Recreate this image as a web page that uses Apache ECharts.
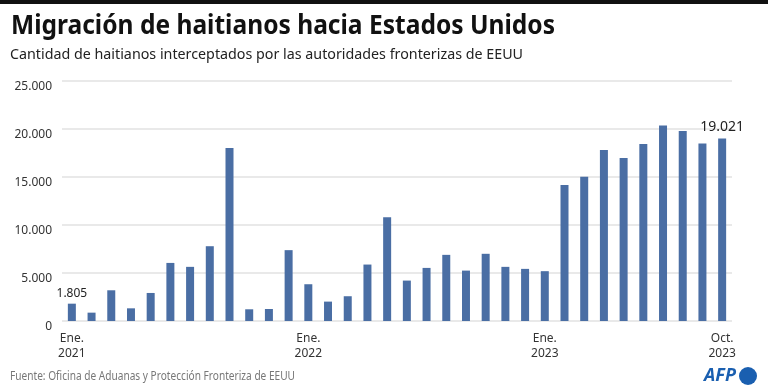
<!DOCTYPE html>
<html><head><meta charset="utf-8">
<script src="https://cdn.jsdelivr.net/npm/echarts@6/dist/echarts.min.js"></script>
<style>html,body{margin:0;padding:0;background:#fff}#c{width:768px;height:389px}</style>
</head><body><div id="c"></div><script>
// Monthly categories Jan 2021 .. Oct 2023
const categories = ['2021-01','2021-02','2021-03','2021-04','2021-05','2021-06','2021-07','2021-08','2021-09','2021-10','2021-11','2021-12',
  '2022-01','2022-02','2022-03','2022-04','2022-05','2022-06','2022-07','2022-08','2022-09','2022-10','2022-11','2022-12',
  '2023-01','2023-02','2023-03','2023-04','2023-05','2023-06','2023-07','2023-08','2023-09','2023-10'];
const values = [1805, 870, 3200, 1320, 2920, 6050, 5640, 7790, 18030, 1220, 1250, 7380,
  3830, 2020, 2580, 5880, 10820, 4210, 5530, 6890, 5250, 7000, 5640, 5430,
  5190, 14160, 15030, 17820, 16980, 18440, 20360, 19800, 18480, 19021];
const tickCategories = ['2021-01','2022-01','2023-01','2023-10'];
const tickLabels = ['Ene.\n2021','Ene.\n2022','Ene.\n2023','Oct.\n2023'];
const labelledCategories = ['2021-01','2023-10'];
const yTicks = [0, 5000, 10000, 15000, 20000, 25000];

const title = 'Migración de haitianos hacia Estados Unidos';
const subtitle = 'Cantidad de haitianos interceptados por las autoridades fronterizas de EEUU';
const source = 'Fuente: Oficina de Aduanas y Protección Fronteriza de EEUU';

function fmt(v){ return String(v).replace(/\B(?=(\d{3})+(?!\d))/g, '.'); }
const cv = document.createElement('canvas').getContext('2d');
function fitScale(text, font, target){ cv.font = font; return target / cv.measureText(text).width; }

const FF = '"Noto Sans", "DejaVu Sans", sans-serif';
const chart = echarts.init(document.getElementById('c'), null, {renderer:'canvas'});
const seriesData = values.map((v, i) => {
  const li = labelledCategories.indexOf(categories[i]);
  if (li < 0) return v;
  const last = i === categories.length - 1;
  return {value: v, label: {show: true, position: 'top', distance: 4,
    fontSize: last ? 14 : 12, color: '#222', fontFamily: FF, formatter: p => fmt(p.value)}};
});

chart.setOption({
  animation: false,
  backgroundColor: '#fff',
  grid: {left: 62, right: 36, top: 81, bottom: 68},
  xAxis: {
    type: 'category', data: categories, boundaryGap: true,
    axisLine: {show: false}, axisTick: {show: false},
    axisLabel: {interval: 0, margin: 10, color: '#333', fontSize: 12, lineHeight: 15, fontFamily: FF,
      formatter: (v) => { const k = tickCategories.indexOf(v); return k < 0 ? '' : tickLabels[k]; }}
  },
  yAxis: {
    type: 'value', min: yTicks[0], max: yTicks[yTicks.length-1], interval: yTicks[1]-yTicks[0],
    axisLine: {show: false}, axisTick: {show: false},
    axisLabel: {margin: 10, color: '#333', fontSize: 12, lineHeight: 12, fontFamily: FF, formatter: fmt, verticalAlign: 'top'},
    splitLine: {lineStyle: {color: '#e2e2e2', width: 1.5}}
  },
  series: [{type: 'bar', data: seriesData, barWidth: 8, itemStyle: {color: '#4a6ea4'}, label: {show: false}}],
  graphic: [
    {type: 'rect', shape: {x: 0, y: 0, width: 768, height: 4}, style: {fill: '#111'}},
    {type: 'text', x: 11, y: 27, scaleX: fitScale(title, 'bold 26px ' + FF, 544),
      style: {text: title, font: 'bold 26px ' + FF, fill: '#111', textVerticalAlign: 'middle'}},
    {type: 'text', x: 10, y: 55, scaleX: fitScale(subtitle, '15px ' + FF, 513),
      style: {text: subtitle, font: '15px ' + FF, fill: '#222', textVerticalAlign: 'middle'}},
    {type: 'text', x: 10, y: 377, scaleX: fitScale(source, '12px ' + FF, 285),
      style: {text: source, font: '12px ' + FF, fill: '#777', textVerticalAlign: 'middle'}},
    {type: 'text', x: 704, y: 376, style: {text: 'AFP', font: 'italic bold 18px ' + FF, fill: '#1a5fb0', textVerticalAlign: 'middle'}},
    {type: 'circle', shape: {cx: 748, cy: 376, r: 9}, style: {fill: '#1a5fb0'}}
  ]
});
</script></body></html>
